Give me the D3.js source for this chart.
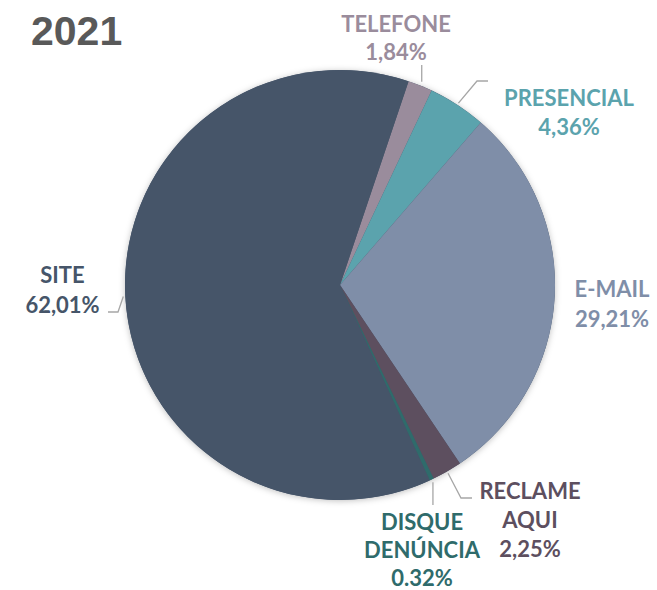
<!DOCTYPE html>
<html><head><meta charset="utf-8">
<script src="https://cdn.jsdelivr.net/npm/d3@7"></script>
<style>body{margin:0;background:#fff}</style>
</head><body>
<svg id="chart" width="657" height="590"></svg>
<script>
const categories = ["TELEFONE","PRESENCIAL","E-MAIL","RECLAME AQUI","DISQUE DENÚNCIA","SITE"];
const values = [1.84, 4.36, 29.21, 2.25, 0.32, 62.01];
const valueLabels = ["1,84%","4,36%","29,21%","2,25%","0.32%","62,01%"];
const colors = ["#9a8c9c","#5ba3ad","#7f8ea8","#5d4f5f","#2f6b6b","#465569"];
const title = "2021";

const svg = d3.select("#chart");
const cx = 340, cy = 285, R = 215;
const startA = 18.6 * Math.PI/180;

const defs = svg.append("defs");
const f = defs.append("filter").attr("id","sh").attr("x","-20%").attr("y","-20%").attr("width","140%").attr("height","140%");
f.append("feDropShadow").attr("dx",0).attr("dy",1).attr("stdDeviation",3).attr("flood-color","#000").attr("flood-opacity",0.25);

svg.append("text").attr("x",31).attr("y",45).attr("font-family","Liberation Sans, Arial, sans-serif")
  .attr("font-weight","bold").attr("font-size",41).attr("fill","#595959").text(title);

const data = categories.map((c,i)=>({c, v:values[i], l:valueLabels[i], col:colors[i]}));
const pie = d3.pie().value(d=>d.v).sort(null).startAngle(startA).endAngle(startA+2*Math.PI);
const arc = d3.arc().innerRadius(0).outerRadius(R);
const g = svg.append("g").attr("transform",`translate(${cx},${cy})`);
const arcs = pie(data);
g.append("circle").attr("r",R).attr("fill","#465569").attr("filter","url(#sh)");
g.selectAll("path").data(arcs).enter().append("path").attr("d",arc).attr("fill",d=>d.data.col);

function rim(a, r){ return [cx + r*Math.sin(a), cy - r*Math.cos(a)]; }
const lineCol = "#a6a6a6";
const leaders = {
  "TELEFONE": (a)=>{const p=rim(a,R+4); return [[p[0],p[1]],[p[0],65]];},
  "PRESENCIAL": (a)=>{const p=rim(a,R+2); return [p,[477,81],[488,81]];},
  "RECLAME AQUI": (a)=>{const p=rim(a,R+2); return [p,[461,498],[472,498]];},
  "DISQUE DENÚNCIA": (a)=>{const p=rim(a,R+3); return [p,[p[0],505]];},
  "SITE": (a)=>{const p=rim(a,R+2); return [p,[118,312],[108,312]];}
};
arcs.forEach(d=>{
  const fn = leaders[d.data.c]; if(!fn) return;
  const a = (d.startAngle+d.endAngle)/2;
  svg.append("path").attr("d", d3.line()(fn(a))).attr("fill","none").attr("stroke",lineCol).attr("stroke-width",1.3);
});

const labelPos = {
  "TELEFONE": {x:396, y:32, dy:28},
  "PRESENCIAL": {x:569, y:106, dy:29},
  "E-MAIL": {x:612, y:297, dy:30},
  "RECLAME AQUI": {x:530, y:499, dy:29},
  "DISQUE DENÚNCIA": {x:422, y:530, dy:28},
  "SITE": {x:62.5, y:283, dy:30}
};
const nameLines = {"RECLAME AQUI":["RECLAME","AQUI"], "DISQUE DENÚNCIA":["DISQUE","DENÚNCIA"]};
data.forEach(d=>{
  const p = labelPos[d.c];
  const lines = nameLines[d.c] || [d.c];
  const t = svg.append("text").attr("text-anchor","middle").attr("font-family","Lato, sans-serif")
    .attr("font-weight","bold").attr("font-size",22).attr("fill",d.col);
  let y = p.y;
  lines.forEach((ln,i)=>{ t.append("tspan").attr("x",p.x).attr("y",y).text(ln); y += p.dy; });
  t.append("tspan").attr("x",p.x).attr("y",y).text(d.l);
});
</script>
</body></html>
